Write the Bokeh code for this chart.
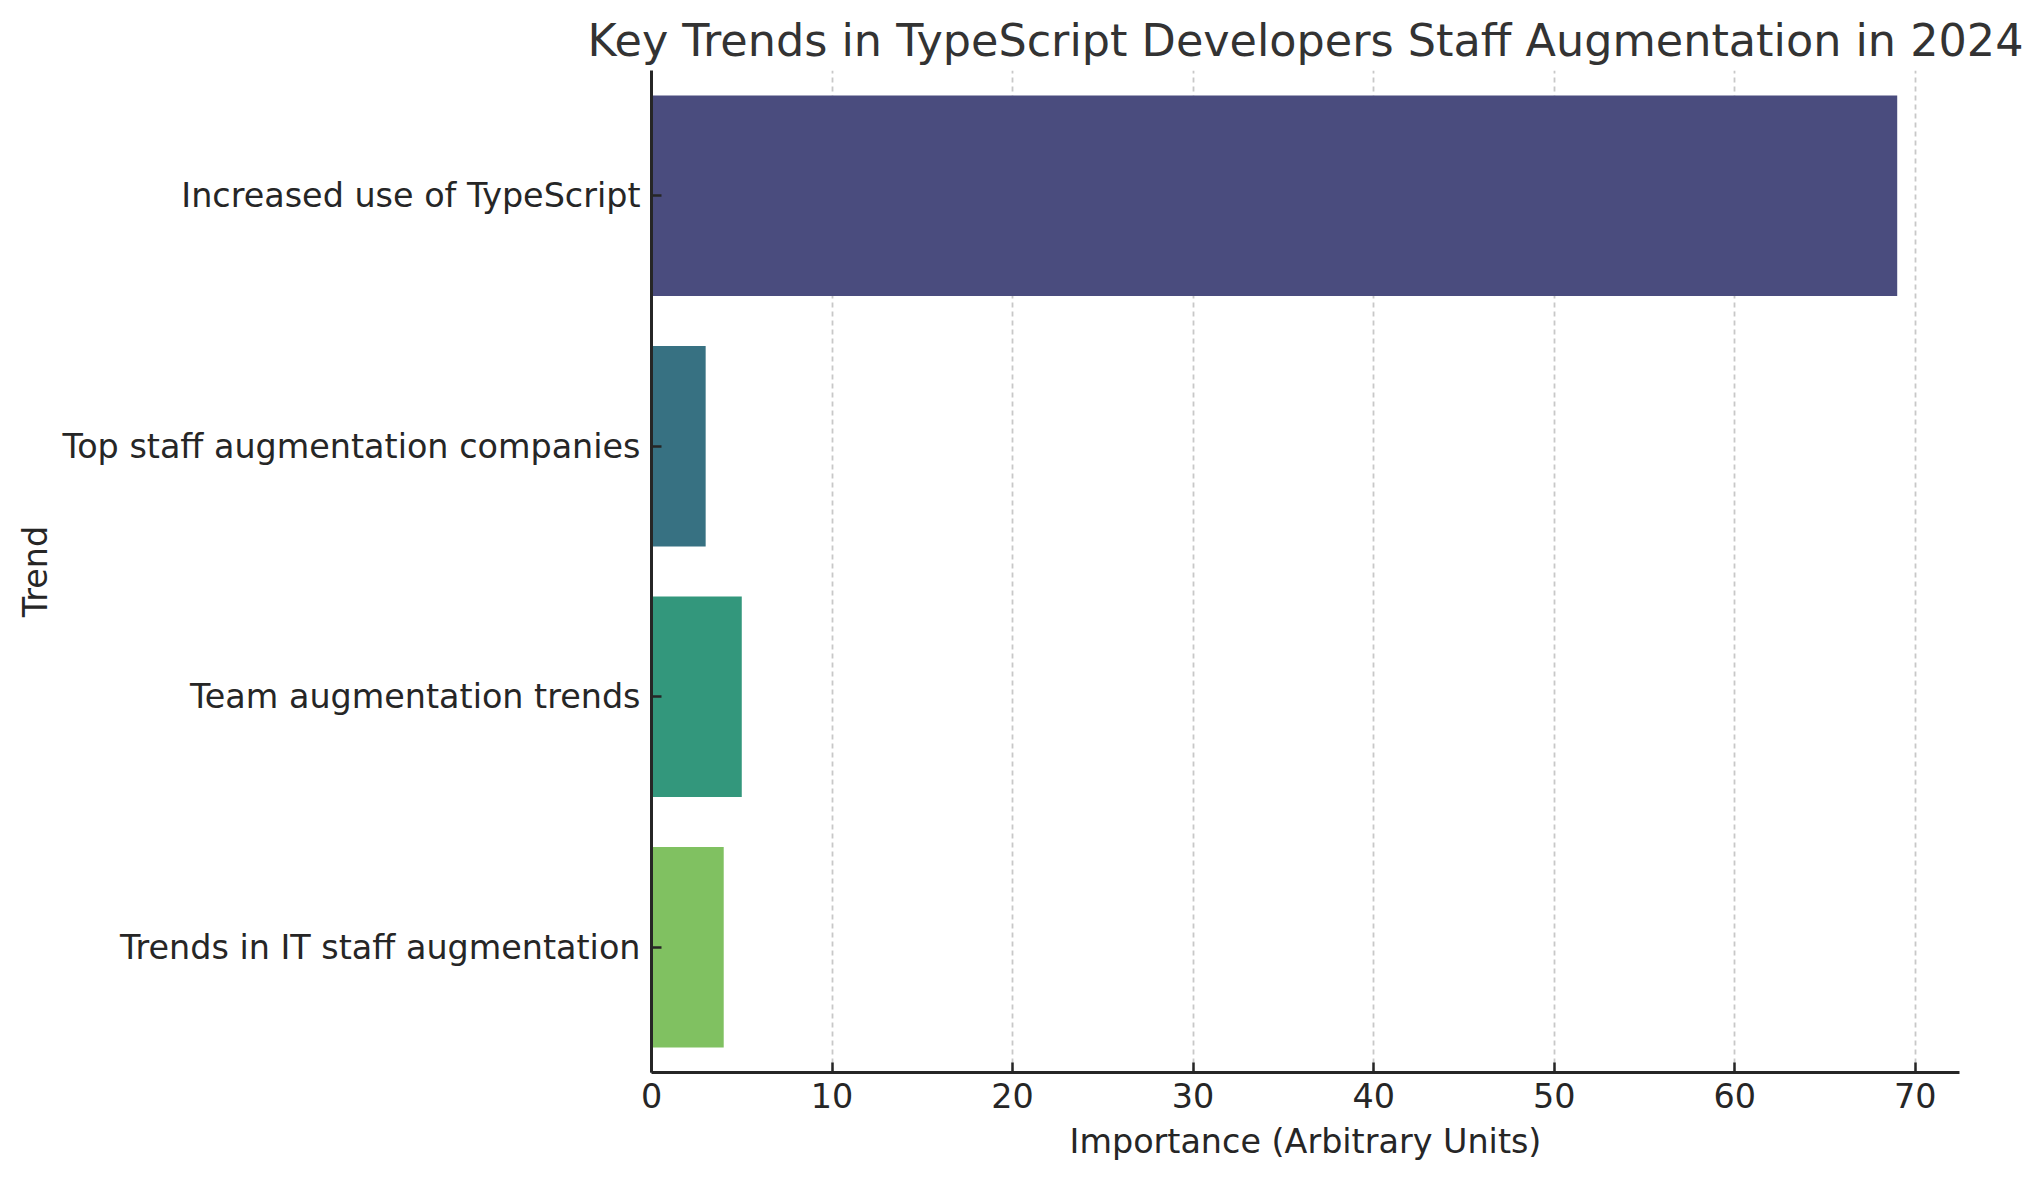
from bokeh.plotting import figure
from bokeh.models import ColumnDataSource, FactorRange, Range1d, FixedTicker
from bokeh.embed import file_html
from bokeh.resources import INLINE

# ---- data ----
trends = [
    "Increased use of TypeScript",
    "Top staff augmentation companies",
    "Team augmentation trends",
    "Trends in IT staff augmentation",
]
importance = [69, 3, 5, 4]
bar_colors = ["#4a4c7e", "#377182", "#33977c", "#80c161"]
x_ticks = [0, 10, 20, 30, 40, 50, 60, 70]

source = ColumnDataSource(dict(trend=trends, value=importance, color=bar_colors))

FONT = "DejaVu Sans"

p = figure(
    y_range=FactorRange(factors=list(reversed(trends))),
    x_range=Range1d(0, max(importance) * 1.05),
    frame_width=1308, frame_height=1002,
    min_border_left=651, min_border_right=69, min_border_top=70, min_border_bottom=92,
    output_backend="svg", toolbar_location=None,
    title="Key Trends in TypeScript Developers Staff Augmentation in 2024",
)

p.hbar(y="trend", right="value", left=0, height=0.8, fill_color="color",
       line_color=None, source=source)

p.outline_line_color = None
p.background_fill_color = "white"
p.border_fill_color = "white"

# title
p.title.text_font = FONT
p.title.text_font_size = "44.5px"
p.title.text_font_style = "normal"
p.title.text_color = "#333333"
p.title.align = "center"

# grid
p.ygrid.grid_line_color = None
p.xgrid.grid_line_color = "#c8c8c8"
p.xgrid.grid_line_dash = "5 4"
p.xgrid.grid_line_width = 1.8
p.xgrid.ticker = FixedTicker(ticks=x_ticks)

# axes
for ax in (p.xaxis[0], p.yaxis[0]):
    ax.axis_line_color = "#262626"
    ax.axis_line_width = 3
    ax.major_tick_line_color = "#262626"
    ax.major_tick_line_width = 2.5
    ax.major_tick_in = 10
    ax.major_tick_out = 0
    ax.minor_tick_line_color = None
    ax.major_label_text_font = FONT
    ax.major_label_text_font_size = "33.4px"
    ax.major_label_text_color = "#262626"
    ax.axis_label_text_font = FONT
    ax.axis_label_text_font_size = "33.4px"
    ax.axis_label_text_font_style = "normal"
    ax.axis_label_text_color = "#262626"

p.xaxis.ticker = FixedTicker(ticks=x_ticks)
p.xaxis.axis_label = "Importance (Arbitrary Units)"
p.xaxis.major_label_standoff = 10
p.xaxis.axis_label_standoff = 11

p.yaxis.axis_label = "Trend"
p.yaxis.major_label_standoff = 11
p.yaxis.axis_label_standoff = 4

open("out.html", "w").write(file_html(p, INLINE))
